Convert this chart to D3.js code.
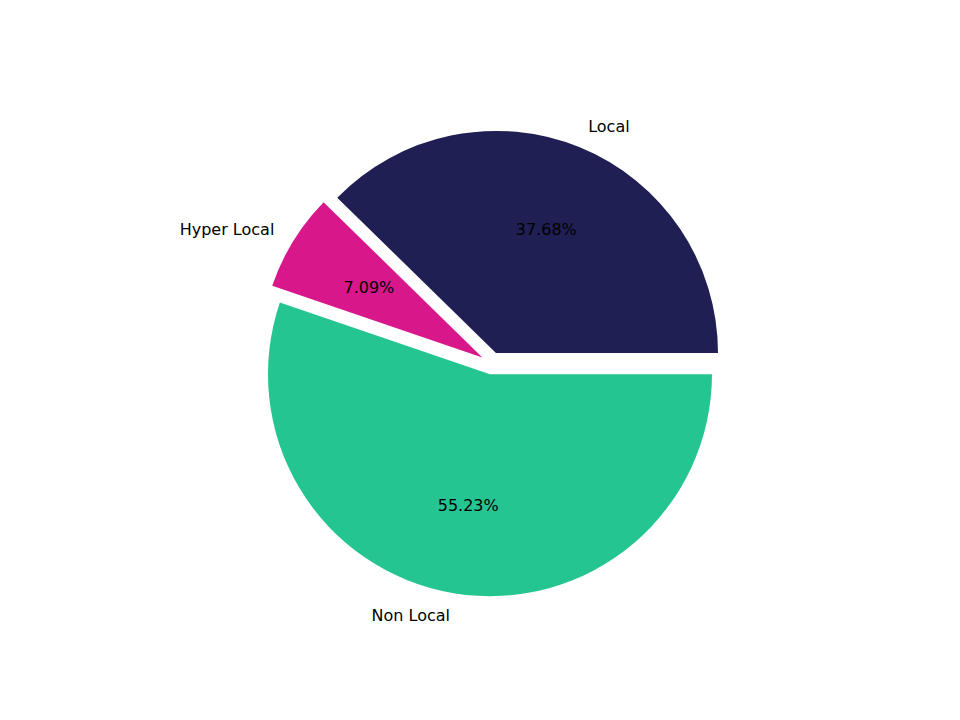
<!DOCTYPE html>
<html>
<head>
<meta charset="utf-8">
<script src="https://cdn.jsdelivr.net/npm/d3@7"></script>
<style>body{margin:0;background:#fff}</style>
</head>
<body>
<div id="chart"></div>
<script>
const categories = ["Local", "Hyper Local", "Non Local"];
const values = [37.68, 7.09, 55.23];
const colors = ["#1f1f53", "#d8188a", "#25c592"];

const width = 960, height = 720;
const cx = 491.8, cy = 363.2, radius = 222, explode = 0.05;

const svg = d3.select("#chart").append("svg")
  .attr("width", width).attr("height", height);

// matplotlib style: start at 3 o'clock, counterclockwise
const pie = d3.pie().sort(null)
  .startAngle(Math.PI / 2).endAngle(Math.PI / 2 - 2 * Math.PI);
const arcs = pie(values);
const arc = d3.arc().innerRadius(0).outerRadius(radius);

const g = svg.append("g").attr("transform", `translate(${cx},${cy})`);

arcs.forEach((d, i) => {
  const a = (d.startAngle + d.endAngle) / 2;
  const ux = Math.sin(a), uy = -Math.cos(a);
  const ox = ux * explode * radius, oy = uy * explode * radius;
  const w = g.append("g").attr("transform", `translate(${ox},${oy})`);
  w.append("path").attr("d", arc(d)).attr("fill", colors[i]);
  w.append("text")
    .attr("x", ux * radius * 1.1).attr("y", uy * radius * 1.1)
    .attr("text-anchor", ux >= 0 ? "start" : "end")
    .attr("dominant-baseline", "central")
    .attr("font-family", "DejaVu Sans").attr("font-size", 16)
    .text(categories[i]);
  w.append("text")
    .attr("x", ux * radius * 0.6).attr("y", uy * radius * 0.6)
    .attr("text-anchor", "middle")
    .attr("dominant-baseline", "central")
    .attr("font-family", "DejaVu Sans").attr("font-size", 16)
    .text(values[i].toFixed(2) + "%");
});
</script>
</body>
</html>
